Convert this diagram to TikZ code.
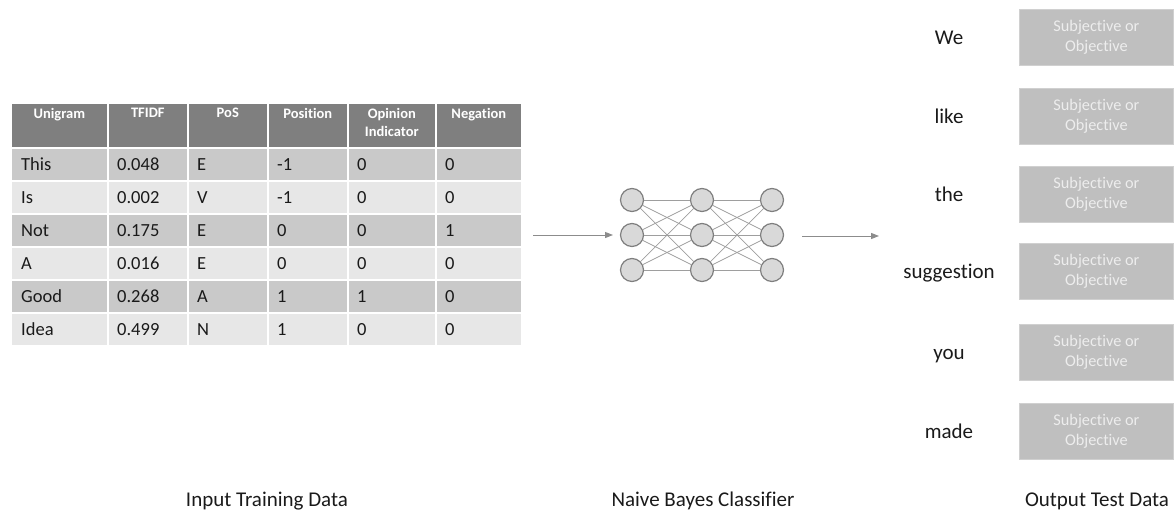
\documentclass[tikz,border=0pt]{standalone}
\usepackage{fontspec}
\setmainfont{Carlito}[Ligatures={NoCommon}]
\usetikzlibrary{arrows.meta}

\definecolor{headgray}{HTML}{7F7F7F}
\definecolor{rowdark}{HTML}{C9C9C9}
\definecolor{rowlight}{HTML}{E7E7E7}
\definecolor{neuronfill}{HTML}{D9D9D9}
\definecolor{neuronline}{HTML}{7F7F7F}
\definecolor{linkgray}{HTML}{9E9E9E}
\definecolor{arrowgray}{HTML}{8C8C8C}
\definecolor{outfill}{HTML}{BFBFBF}
\definecolor{outline}{HTML}{D0D0D0}
\definecolor{outtext}{HTML}{EDEDED}
\definecolor{txt}{HTML}{1A1A1A}

\tikzset{
  cellbox/.style={rectangle, draw=white, line width=1.6pt, anchor=north west, inner sep=0pt},
  headtext/.style={font=\fontsize{14.5}{18}\selectfont\bfseries, text=white, align=center, anchor=north, inner sep=0pt},
  bodytext/.style={font=\fontsize{18.5}{22}\selectfont, text=txt, anchor=west, inner sep=0pt},
  neuron/.style={circle, draw=neuronline, fill=neuronfill, line width=1.2pt, minimum size=23pt, inner sep=0pt},
  link/.style={draw=linkgray, line width=0.7pt},
  flow/.style={draw=arrowgray, line width=1pt, -{Triangle[length=8pt, width=6pt]}},
  outbox/.style={rectangle, draw=outline, fill=outfill, line width=0.8pt, minimum width=154pt, minimum height=56pt, inner sep=0pt,
    text=outtext, align=center, font=\fontsize{16.3}{19.5}\selectfont},
  wordtext/.style={font=\fontsize{21}{24}\selectfont, text=txt, inner sep=0pt},
  captext/.style={font=\fontsize{21}{25}\selectfont, text=txt, inner sep=0pt}
}

\begin{document}
\begin{tikzpicture}[x=1pt, y=-1pt]
\useasboundingbox (0,0) rectangle (1174,513);

% ---- feature table ----
% column edges: 10,107,187,267,347,435,521
\foreach \c/\xa/\w/\lab in {1/10/97/Unigram, 2/107/80/TFIDF, 3/187/80/PoS, 4/267/80/Position, 5/347/88/{Opinion\\Indicator}, 6/435/86/Negation}{
  \node[cellbox, fill=headgray, minimum width=\w pt, minimum height=45pt] (h\c) at (\xa,102) {};
  \node[headtext] (ht\c) at ([yshift=-6pt]h\c.north) {\lab};
}

\foreach \r/\ya/\shade/\va/\vb/\vc/\vd/\ve/\vf in {
  1/147/rowdark/This/0.048/E/-1/0/0,
  2/180/rowlight/Is/0.002/V/-1/0/0,
  3/213/rowdark/Not/0.175/E/0/0/1,
  4/246/rowlight/A/0.016/E/0/0/0,
  5/279/rowdark/Good/0.268/A/1/1/0,
  6/312/rowlight/Idea/0.499/N/1/0/0}{
  \node[cellbox, fill=\shade, minimum width=97pt, minimum height=33pt] (c\r-1) at (10,\ya) {};
  \node[cellbox, fill=\shade, minimum width=80pt, minimum height=33pt] (c\r-2) at (107,\ya) {};
  \node[cellbox, fill=\shade, minimum width=80pt, minimum height=33pt] (c\r-3) at (187,\ya) {};
  \node[cellbox, fill=\shade, minimum width=80pt, minimum height=33pt] (c\r-4) at (267,\ya) {};
  \node[cellbox, fill=\shade, minimum width=88pt, minimum height=33pt] (c\r-5) at (347,\ya) {};
  \node[cellbox, fill=\shade, minimum width=86pt, minimum height=33pt] (c\r-6) at (435,\ya) {};
  \node[bodytext] (t\r-1) at ([xshift=11pt]c\r-1.west) {\va};
  \node[bodytext] (t\r-2) at ([xshift=10pt]c\r-2.west) {\vb};
  \node[bodytext] (t\r-3) at ([xshift=10pt]c\r-3.west) {\vc};
  \node[bodytext] (t\r-4) at ([xshift=10pt]c\r-4.west) {\vd};
  \node[bodytext] (t\r-5) at ([xshift=10pt]c\r-5.west) {\ve};
  \node[bodytext] (t\r-6) at ([xshift=10pt]c\r-6.west) {\vf};
}

% ---- classifier network ----
\foreach \l/\x in {1/632, 2/702, 3/772}{
  \foreach \n/\y in {1/200, 2/235, 3/270}{
    \node[neuron] (n\l-\n) at (\x,\y) {};
  }
}
\foreach \i in {1,2,3}{
  \foreach \j in {1,2,3}{
    \draw[link] (n1-\i) -- (n2-\j);
    \draw[link] (n2-\i) -- (n3-\j);
  }
}

% ---- flow arrows ----
\coordinate (inStart) at (533,235);
\coordinate (inEnd) at (613,235);
\coordinate (outStart) at (802,236);
\coordinate (outEnd) at (879,236);
\draw[flow] (inStart) -- (inEnd);
\draw[flow] (outStart) -- (outEnd);

% ---- output words and classes ----
\foreach \k/\yt/\word in {1/9/We, 2/88/like, 3/166/the, 4/243/suggestion, 5/324/you, 6/403/made}{
  \node[outbox, anchor=north west] (o\k) at (1019,\yt) {Subjective or\\Objective};
  \node[wordtext] (w\k) at (949,\yt+31) {\strut\word};
}

% ---- captions ----
\node[captext] (capIn) at (267,501) {Input Training Data};
\node[captext] (capNet) at (703,501) {Naive Bayes Classifier};
\node[captext] (capOut) at (1097,501) {Output Test Data};
\end{tikzpicture}
\end{document}
